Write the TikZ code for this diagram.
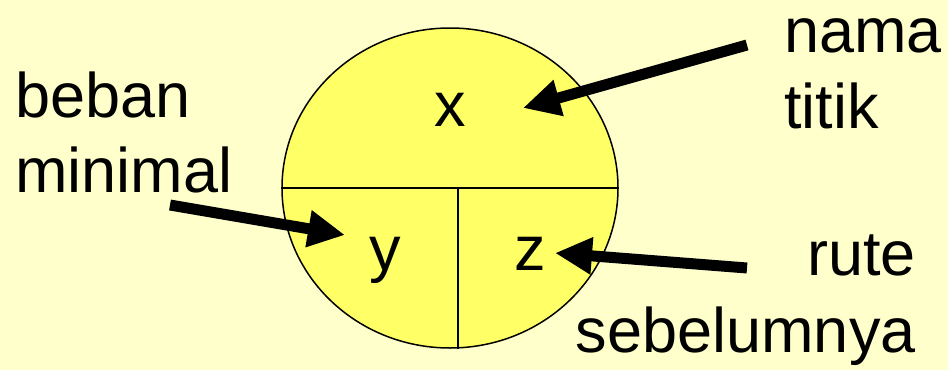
\documentclass[tikz,border=0pt]{standalone}
\usepackage{fontspec}
\setmainfont{Liberation Sans}
\usetikzlibrary{positioning,arrows.meta,calc,shapes.geometric}
\definecolor{bgyellow}{RGB}{255,255,204}
\definecolor{nodeyellow}{RGB}{255,255,102}

\begin{document}
\begin{tikzpicture}[x=0.5pt,y=-0.5pt,
  bigtext/.style={font=\fontsize{31.5}{38}\selectfont, inner sep=0pt},
  pointer/.style={line width=5.5pt, -{Triangle[length=18.5pt,width=17.5pt]}}]
% background
\fill[bgyellow] (0,0) rectangle (948,370);
\useasboundingbox (0,0) rectangle (948,370);
% the labelled node, split in three fields
\node[ellipse, draw, fill=nodeyellow, line width=0.75pt, minimum width=168pt, minimum height=160pt, inner sep=0pt] (nd) at (450,188) {};
\draw[line width=0.75pt] (nd.west) -- (nd.east);
\draw[line width=0.75pt] ($(nd.center)+(8,0)$) -- ($(nd.south)+(8,0)$);
\node[bigtext, anchor=base] (fx) at (450,126) {x};
\node[bigtext, anchor=base] (fy) at (385,270) {y};
\node[bigtext, anchor=base] (fz) at (530,270) {z};
% explanations
\node[bigtext, anchor=base west] (beban) at (15,117) {beban};
\node[bigtext, anchor=base west] (minimal) at (15,192) {minimal};
\node[bigtext, anchor=base west] (nama) at (784,52) {nama};
\node[bigtext, anchor=base west] (titik) at (784,128) {titik};
\node[bigtext, anchor=base east] (rute) at (916,275) {rute};
\node[bigtext, anchor=base east] (sebelumnya) at (916,352) {sebelumnya};
% arrows
\coordinate (namatail) at (747,45);
\coordinate (namatip) at (523,108);
\coordinate (bebantail) at (170,205);
\coordinate (bebantip) at (345,235);
\coordinate (rutetail) at (747,268);
\coordinate (rutetip) at (555,253);
\draw[pointer] (namatail) -- (namatip);
\draw[pointer] (bebantail) -- (bebantip);
\draw[pointer] (rutetail) -- (rutetip);
\end{tikzpicture}
\end{document}
